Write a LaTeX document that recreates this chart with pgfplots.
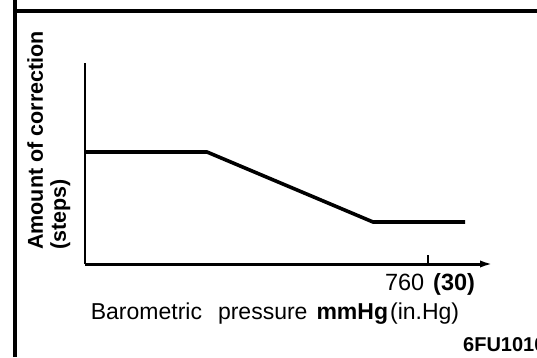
\documentclass[border=0pt]{standalone}
\usepackage{pgfplots}
\pgfplotsset{compat=1.18}
\usepackage{fontspec}
\setmainfont{Liberation Sans}
\usetikzlibrary{arrows.meta}
\begin{document}
\begin{tikzpicture}[x=1bp,y=1bp]
\useasboundingbox (0,0) rectangle (537,357);
\draw[line width=4bp] (15,0) -- (15,357);
\draw[line width=4bp] (13,346) -- (537,346);
\begin{axis}[
  at={(85bp,93bp)}, anchor=south west,
  scale only axis, width=410bp, height=201bp,
  xmin=417, xmax=827, ymin=0, ymax=201,
  axis lines=left,
  x axis line style={line width=3bp, -{Latex[length=15bp,width=7bp]}},
  y axis line style={line width=1.6bp, -},
  xtick={760},
  xticklabels={{760\hspace{9bp}\textbf{(30)}}},
  ytick=\empty, minor ytick={146,168,189},
  tick align=inside, major tick length=9bp, minor tick length=3bp,
  major tick style={line width=1.5bp, black},
  minor tick style={line width=1.5bp, black, xshift=-3bp},
  xticklabel style={font=\fontsize{23.5bp}{25bp}\selectfont, anchor=base, inner sep=0pt, yshift=-26bp, xshift=2bp},
  xlabel={Barometric\hspace{16bp}pressure\hspace{9bp}\textbf{mmHg}\hspace{2bp}(in.Hg)},
  xlabel style={at={(axis description cs:0.4634,0)}, anchor=base, yshift=-55bp, font=\fontsize{23bp}{25bp}\selectfont, inner sep=0pt},
  ylabel={Amount of correction\\(steps)},
  ylabel style={at={(axis description cs:-0.141,0.0697)}, anchor=north west, align=left, font=\fontsize{21.5bp}{23bp}\selectfont\bfseries, inner sep=0pt},
]
\addplot[line width=3.6bp, black] coordinates {(417,112) (539,112) (705,42) (797,42)};
\end{axis}
\node[anchor=base west, inner sep=0pt, font=\fontsize{20bp}{22bp}\selectfont\bfseries] at (463,6) {6FU1010};
\end{tikzpicture}
\end{document}
